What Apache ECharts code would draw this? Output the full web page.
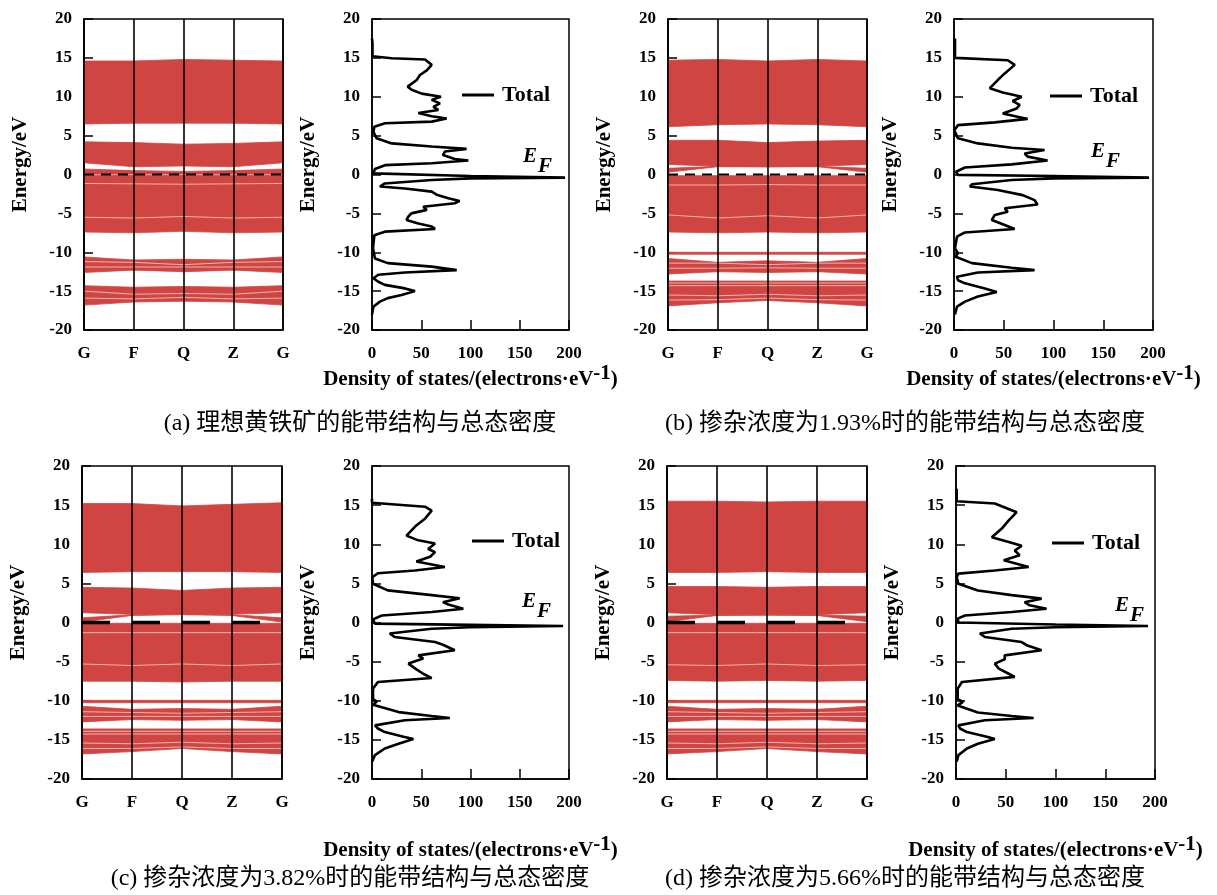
<!DOCTYPE html>
<html>
<head>
<meta charset="utf-8">
<script src="https://cdn.jsdelivr.net/npm/echarts@6/dist/echarts.min.js"></script>
<style>
html, body { margin: 0; padding: 0; background: #fff; }
#main { width: 1217px; height: 895px; }
</style>
</head>
<body>
<div id="main"></div>
<script>
var kLabels = ['G', 'F', 'Q', 'Z', 'G'];

// band blocks: [lower edge at G,F,Q,Z,G], [upper edge at G,F,Q,Z,G]  (eV)
var bandsA = [
  [[6.5, 6.6, 6.6, 6.6, 6.5], [14.6, 14.6, 14.8, 14.7, 14.6]],
  [[1.5, 1.0, 1.1, 1.0, 1.5], [4.2, 4.1, 3.9, 4.0, 4.2]],
  [[0.05, 0.05, 0.05, 0.05, 0.05], [0.7, 0.5, 0.4, 0.5, 0.7]],
  [[-7.4, -7.5, -7.3, -7.5, -7.4], [-0.1, -0.1, -0.1, -0.1, -0.1]],
  [[-12.6, -12.3, -12.5, -12.3, -12.6], [-10.6, -11.0, -10.9, -11.0, -10.6]],
  [[-16.8, -16.4, -16.3, -16.4, -16.8], [-14.3, -14.5, -14.4, -14.5, -14.3]]
];
var bandsB = [
  [[6.15, 6.4, 6.5, 6.4, 6.15], [14.7, 14.8, 14.6, 14.8, 14.6]],
  [[1.3, 1.05, 1.0, 1.05, 1.3], [4.4, 4.4, 4.1, 4.3, 4.4]],
  [[0.3, 1.0, 1.0, 1.0, 0.3], [0.8, 1.05, 1.0, 1.05, 0.8]],
  [[-7.4, -7.5, -7.4, -7.5, -7.4], [-0.15, -0.15, -0.15, -0.15, -0.15]],
  [[-10.25, -10.25, -10.25, -10.25, -10.25], [-10.0, -10.0, -10.0, -10.0, -10.0]],
  [[-12.8, -12.5, -12.6, -12.5, -12.8], [-10.8, -11.3, -11.1, -11.3, -10.8]],
  [[-16.9, -16.5, -16.2, -16.5, -16.9], [-13.7, -13.7, -13.7, -13.7, -13.7]]
];
var bandsC = [
  [[6.4, 6.5, 6.5, 6.5, 6.4], [15.2, 15.2, 14.9, 15.1, 15.3]],
  [[1.25, 1.05, 1.1, 1.05, 1.25], [4.5, 4.4, 4.1, 4.4, 4.5]],
  [[0.05, 0.9, 1.0, 0.9, 0.05], [0.6, 1.0, 1.05, 1.0, 0.6]],
  [[-7.5, -7.5, -7.6, -7.5, -7.5], [-0.1, -0.1, -0.1, -0.1, -0.1]],
  [[-10.25, -10.25, -10.25, -10.25, -10.25], [-9.95, -9.95, -9.95, -9.95, -9.95]],
  [[-12.7, -12.4, -12.5, -12.4, -12.7], [-10.7, -11.1, -11.0, -11.1, -10.7]],
  [[-16.8, -16.5, -16.1, -16.5, -16.8], [-13.6, -13.6, -13.6, -13.6, -13.6]]
];
var bandsD = [
  [[6.4, 6.4, 6.5, 6.4, 6.4], [15.5, 15.5, 15.4, 15.5, 15.5]],
  [[1.25, 1.0, 1.0, 1.0, 1.25], [4.6, 4.6, 4.5, 4.6, 4.6]],
  [[0.1, 0.9, 0.95, 0.9, 0.1], [0.8, 0.95, 0.95, 0.95, 0.8]],
  [[-7.4, -7.5, -7.4, -7.5, -7.4], [-0.1, -0.1, -0.1, -0.1, -0.1]],
  [[-10.25, -10.25, -10.25, -10.25, -10.25], [-9.95, -9.95, -9.95, -9.95, -9.95]],
  [[-12.7, -12.4, -12.5, -12.4, -12.7], [-10.7, -11.1, -11.0, -11.1, -10.7]],
  [[-16.8, -16.5, -16.1, -16.5, -16.8], [-13.6, -13.6, -13.6, -13.6, -13.6]]
];

// white gaps inside the bands (eV at G,F,Q,Z,G)
var whiteA = [
  [-1.15, -1.2, -1.25, -1.2, -1.15], [-5.5, -5.6, -5.4, -5.6, -5.5],
  [-11.2, -11.3, -11.6, -11.3, -11.2], [-11.9, -11.9, -11.9, -11.9, -11.9],
  [-15.0, -15.4, -15.3, -15.4, -15.0], [-15.9, -16.0, -15.8, -16.0, -15.9]
];
var whiteB = [
  [-1.35, -1.35, -1.3, -1.35, -1.35], [-5.2, -5.6, -5.3, -5.6, -5.2],
  [-11.4, -11.4, -11.6, -11.4, -11.4], [-12.05, -12.05, -12.0, -12.05, -12.05],
  [-13.95, -13.95, -13.95, -13.95, -13.95], [-14.3, -14.3, -14.3, -14.3, -14.3],
  [-15.5, -15.6, -15.4, -15.6, -15.5], [-16.15, -16.1, -15.9, -16.1, -16.15]
];
var whiteC = [
  [-1.3, -1.3, -1.3, -1.3, -1.3], [-5.3, -5.5, -5.3, -5.5, -5.3],
  [-11.4, -11.5, -11.6, -11.5, -11.4], [-12.0, -12.0, -12.0, -12.0, -12.0],
  [-13.9, -13.9, -13.9, -13.9, -13.9], [-14.25, -14.25, -14.25, -14.25, -14.25],
  [-15.4, -15.5, -15.3, -15.5, -15.4], [-16.1, -16.1, -15.9, -16.1, -16.1]
];
var whiteD = [
  [-1.3, -1.3, -1.3, -1.3, -1.3], [-5.4, -5.5, -5.3, -5.5, -5.4],
  [-11.4, -11.5, -11.6, -11.5, -11.4], [-12.0, -12.0, -12.0, -12.0, -12.0],
  [-13.9, -13.9, -13.9, -13.9, -13.9], [-14.25, -14.25, -14.25, -14.25, -14.25],
  [-15.4, -15.5, -15.3, -15.5, -15.4], [-16.1, -16.1, -15.9, -16.1, -16.1]
];

// total density of states: [DOS, E]
var dosA = [[0,17.5],[0.5,16.9],[0.5,15.2],[20,14.95],[53.8,14.8],[60.6,14.1],[55.6,13.4],[48.7,12.8],[45.4,12.15],[36.2,11.3],[40.2,10.9],[50.4,10.4],[70,10.0],[60.6,9.6],[69,9.15],[62.3,8.7],[67.3,8.3],[47,7.9],[60.6,7.5],[75.8,7.2],[60.6,6.8],[13.2,6.6],[2.4,6.15],[1.4,5.5],[4.7,4.65],[20,4.0],[60.6,3.6],[96,3.3],[74,2.95],[72,2.5],[84,2.0],[97.8,1.8],[60.6,1.45],[13.2,1.2],[3,0.7],[1.4,0.15],[100,-0.2],[196,-0.4],[100,-0.5],[60.6,-0.7],[13,-1.15],[8,-1.55],[33.5,-1.8],[60.6,-2.2],[65.6,-2.6],[77.5,-3.05],[89,-3.4],[84,-3.7],[52,-4.15],[55.6,-4.55],[40,-5.0],[37,-5.4],[35,-5.85],[47,-6.3],[60.6,-6.7],[64,-7.0],[13,-7.35],[2.4,-7.8],[1,-9.5],[3,-10.8],[16,-11.4],[60.6,-11.85],[86,-12.3],[33.5,-12.6],[6.4,-12.9],[1.4,-13.35],[6.4,-13.8],[13,-14.2],[33.5,-14.65],[43.6,-15.0],[30,-15.5],[16,-15.9],[8,-16.35],[1.4,-17.0],[0,-18]];
var dosB = [[1,17.5],[1,15.0],[54,14.7],[61,14.1],[51,13.0],[44,12.15],[36,11.1],[49,10.55],[68,10.0],[59,9.45],[66,8.95],[63,8.5],[49,7.85],[74,7.15],[41,6.7],[4,6.35],[0.3,5.7],[4,4.65],[24,4.0],[58,3.45],[91,3.15],[71,2.7],[74,2.3],[94,1.8],[58,1.3],[11,0.9],[2,0.35],[4,-0.05],[100,-0.2],[196,-0.4],[100,-0.5],[58,-0.7],[18,-1.25],[16,-1.55],[44,-2.0],[69,-2.65],[81,-3.3],[84,-3.85],[51,-4.35],[54,-4.8],[41,-5.2],[38,-5.85],[51,-6.5],[61,-7.0],[11,-7.45],[3,-8.0],[1,-9.5],[4,-10.15],[1,-10.55],[18,-11.4],[58,-12.0],[81,-12.3],[24,-12.6],[3,-13.15],[4,-13.6],[11,-14.0],[31,-14.65],[43,-15.1],[24,-15.7],[11,-16.35],[3,-17.0],[1,-18]];
var dosC = [[0,15.8],[0,15.3],[53.8,14.8],[60.6,14.3],[54,13.3],[45,12.4],[35,11.1],[47,10.5],[64,10.1],[57,9.4],[64,9.0],[59,8.4],[45,7.8],[74,7.1],[43.6,6.65],[6,6.3],[0.3,5.8],[1,4.95],[16,4.1],[60.6,3.5],[89,3.1],[72,2.6],[77.5,2.3],[92.7,1.75],[60.6,1.35],[10,0.9],[1,0.4],[3,-0.15],[100,-0.3],[194,-0.45],[100,-0.6],[60.6,-0.8],[18,-1.4],[23,-1.85],[64,-2.5],[72,-2.85],[84,-3.55],[47,-4.2],[52,-4.6],[37,-5.25],[44,-5.9],[52,-6.55],[60.6,-7.1],[6,-7.6],[1,-8.45],[1,-9.8],[5,-10.1],[1,-10.5],[27,-11.45],[60.6,-11.95],[79,-12.2],[33.5,-12.5],[3,-13.15],[6,-13.55],[13,-14.0],[32,-14.6],[42,-14.9],[27,-15.5],[13,-16.1],[3,-16.95],[0,-17.8]];
var dosD = [[0.7,17.1],[0.7,15.5],[39,15.2],[61,14.1],[53,13.05],[46,12.0],[36,10.9],[53,10.3],[66,9.8],[59,9.2],[64,8.6],[48,7.95],[73,7.1],[39,6.65],[2.4,6.25],[0.7,5.8],[2.4,4.95],[22,4.1],[56,3.5],[86,3.05],[69,2.6],[74,2.2],[91,1.75],[56,1.35],[9,0.9],[1.7,0.5],[2.4,0],[100,-0.25],[193,-0.45],[100,-0.6],[56,-0.8],[24,-1.4],[29,-1.85],[66,-2.5],[71,-2.9],[86,-3.55],[49,-4.2],[49,-4.7],[39,-5.25],[43,-5.9],[53,-6.55],[59,-6.95],[6,-7.6],[1.7,-8.45],[1.7,-9.8],[7,-10.15],[1.7,-10.6],[22,-11.5],[56,-11.95],[78,-12.2],[29,-12.5],[2.4,-13.15],[4,-13.55],[11,-14.0],[31,-14.6],[39,-14.9],[22,-15.5],[11,-16.1],[2.4,-16.95],[0.7,-17.8]];

var captions = [
  '(a) 理想黄铁矿的能带结构与总态密度',
  '(b) 掺杂浓度为1.93%时的能带结构与总态密度',
  '(c) 掺杂浓度为3.82%时的能带结构与总态密度',
  '(d) 掺杂浓度为5.66%时的能带结构与总态密度'
];

var panels = [
  { band: bandsA, white: whiteA, dos: dosA, bg: [84, 19, 199, 311], dg: [372, 19, 197, 311], leg: [462, 84], ef: [523, 146], cap: [360, 412], nameGap: 31, dash: 2.2, dashType: [10, 7] },
  { band: bandsB, white: whiteB, dos: dosB, bg: [668, 19, 199, 311], dg: [954, 19, 199, 311], leg: [1050, 85], ef: [1091, 141], cap: [905, 412], nameGap: 31, dash: 2.2, dashType: [10, 7] },
  { band: bandsC, white: whiteC, dos: dosC, bg: [82, 466, 200, 313], dg: [372, 466, 197, 313], leg: [472, 530], ef: [522, 591], cap: [350, 867], nameGap: 55, dash: 3.5, dashType: [28, 22] },
  { band: bandsD, white: whiteD, dos: dosD, bg: [667, 466, 200, 313], dg: [956, 466, 199, 313], leg: [1052, 532], ef: [1115, 595], cap: [905, 867], nameGap: 55, dash: 3.5, dashType: [28, 22] }
];

var serif = "'Liberation Serif', 'Times New Roman', serif";
var bandColor = '#d04541';
var labelStyle = { fontFamily: serif, fontWeight: 'bold', fontSize: 17, color: '#000' };

function renderBlock(params, api) {
  var k = api.value(0);
  var pts = [
    api.coord([k, api.value(1)]),
    api.coord([k + 1, api.value(3)]),
    api.coord([k + 1, api.value(4)]),
    api.coord([k, api.value(2)])
  ];
  return {
    type: 'polygon',
    shape: { points: pts },
    style: { fill: bandColor, stroke: bandColor, lineWidth: 0.8 }
  };
}

var grids = [], xAxes = [], yAxes = [], series = [], legends = [], graphics = [];

panels.forEach(function (p, i) {
  var gb = grids.length;
  grids.push({ left: p.bg[0], top: p.bg[1], width: p.bg[2], height: p.bg[3], show: true, borderColor: '#000', borderWidth: 1.5 });
  grids.push({ left: p.dg[0], top: p.dg[1], width: p.dg[2], height: p.dg[3], show: true, borderColor: '#000', borderWidth: 1.5 });

  var yBase = {
    type: 'value', min: -20, max: 20, interval: 5,
    name: 'Energy/eV', nameLocation: 'middle', nameGap: 53, nameRotate: 90,
    nameTextStyle: { fontFamily: serif, fontWeight: 'bold', fontSize: 21, color: '#000', padding: [0, 0, 0, 20] },
    axisLine: { show: true, onZero: false, lineStyle: { color: '#000', width: 1.5 } },
    axisTick: { show: true, inside: true, length: 9, lineStyle: { color: '#000', width: 1.5 } },
    axisLabel: Object.assign({ margin: 12 }, labelStyle),
    splitLine: { show: false }
  };
  yAxes.push(Object.assign({ gridIndex: gb }, yBase));
  yAxes.push(Object.assign({ gridIndex: gb + 1 }, yBase));

  xAxes.push({
    gridIndex: gb, type: 'value', min: 0, max: 4, interval: 1,
    axisLine: { show: true, onZero: false, lineStyle: { color: '#000', width: 1.5 } },
    axisTick: { show: false },
    axisLabel: Object.assign({ margin: 15, formatter: function (v) { return kLabels[v]; } }, labelStyle),
    splitLine: { show: false }
  });
  xAxes.push({
    gridIndex: gb + 1, type: 'value', min: 0, max: 200, interval: 50,
    name: '{a|Density of states/(electrons·eV}{s|-1}{a|)}',
    nameLocation: 'middle', nameGap: p.nameGap,
    nameTextStyle: {
      rich: {
        a: { fontFamily: serif, fontWeight: 'bold', fontSize: 21, color: '#000' },
        s: { fontFamily: serif, fontWeight: 'bold', fontSize: 21, color: '#000', padding: [0, 0, 13, 0] }
      }
    },
    axisLine: { show: true, onZero: false, lineStyle: { color: '#000', width: 1.5 } },
    axisTick: { show: true, inside: true, length: 10, lineStyle: { color: '#000', width: 1.5 } },
    axisLabel: Object.assign({ margin: 15 }, labelStyle),
    splitLine: { show: false }
  });

  // band blocks as polygons between neighbouring k-points
  var blockData = [];
  p.band.forEach(function (b) {
    for (var k = 0; k < 4; k++) {
      blockData.push([k, b[0][k], b[1][k], b[0][k + 1], b[1][k + 1]]);
    }
  });
  series.push({
    type: 'custom', xAxisIndex: gb, yAxisIndex: gb, renderItem: renderBlock,
    encode: { x: 0, y: [1, 2, 3, 4] }, data: blockData, silent: true, z: 2
  });
  p.white.forEach(function (w) {
    series.push({
      type: 'line', xAxisIndex: gb, yAxisIndex: gb, symbol: 'none', silent: true, z: 3,
      lineStyle: { color: '#fff', width: 1, opacity: 0.6 },
      data: w.map(function (e, k) { return [k, e]; })
    });
  });
  // Fermi level and high-symmetry lines
  series.push({
    type: 'line', xAxisIndex: gb, yAxisIndex: gb, symbol: 'none', silent: true, z: 5,
    lineStyle: { color: '#000', width: p.dash, type: p.dashType },
    data: [[0, 0], [4, 0]],
    markLine: {
      silent: true, symbol: 'none', label: { show: false },
      lineStyle: { color: '#000', type: 'solid', width: 1.6 },
      data: [{ xAxis: 0 }, { xAxis: 1 }, { xAxis: 2 }, { xAxis: 3 }, { xAxis: 4 }]
    }
  });
  // total DOS
  series.push({
    name: 'Total', type: 'line', xAxisIndex: gb + 1, yAxisIndex: gb + 1,
    symbol: 'none', color: '#000', lineStyle: { color: '#000', width: 2.6 },
    data: p.dos, z: 4
  });

  legends.push({
    data: ['Total'], left: p.leg[0], top: p.leg[1], padding: 0, icon: 'rect',
    itemWidth: 32, itemHeight: 3, selectedMode: false,
    textStyle: { fontFamily: serif, fontWeight: 'bold', fontSize: 22, color: '#000', padding: [0, 0, 0, 3] }
  });

  graphics.push({
    type: 'text', left: p.ef[0], top: p.ef[1],
    style: { text: 'E', fontFamily: serif, fontStyle: 'italic', fontWeight: 'bold', fontSize: 21, fill: '#000' }
  });
  graphics.push({
    type: 'text', left: p.ef[0] + 15, top: p.ef[1] + 10,
    style: { text: 'F', fontFamily: serif, fontStyle: 'italic', fontWeight: 'bold', fontSize: 21, fill: '#000' }
  });
  graphics.push({
    type: 'text', x: p.cap[0], y: p.cap[1],
    style: { text: captions[i], align: 'center', fontFamily: "'Liberation Serif', 'Noto Sans CJK SC', serif", fontSize: 24, fill: '#000' }
  });
});

var myChart = echarts.init(document.getElementById('main'), null, { renderer: 'canvas' });
var option = {
  backgroundColor: '#fff',
  animation: false,
  grid: grids,
  xAxis: xAxes,
  yAxis: yAxes,
  legend: legends,
  graphic: graphics,
  series: series
};
myChart.setOption(option);
</script>
</body>
</html>
